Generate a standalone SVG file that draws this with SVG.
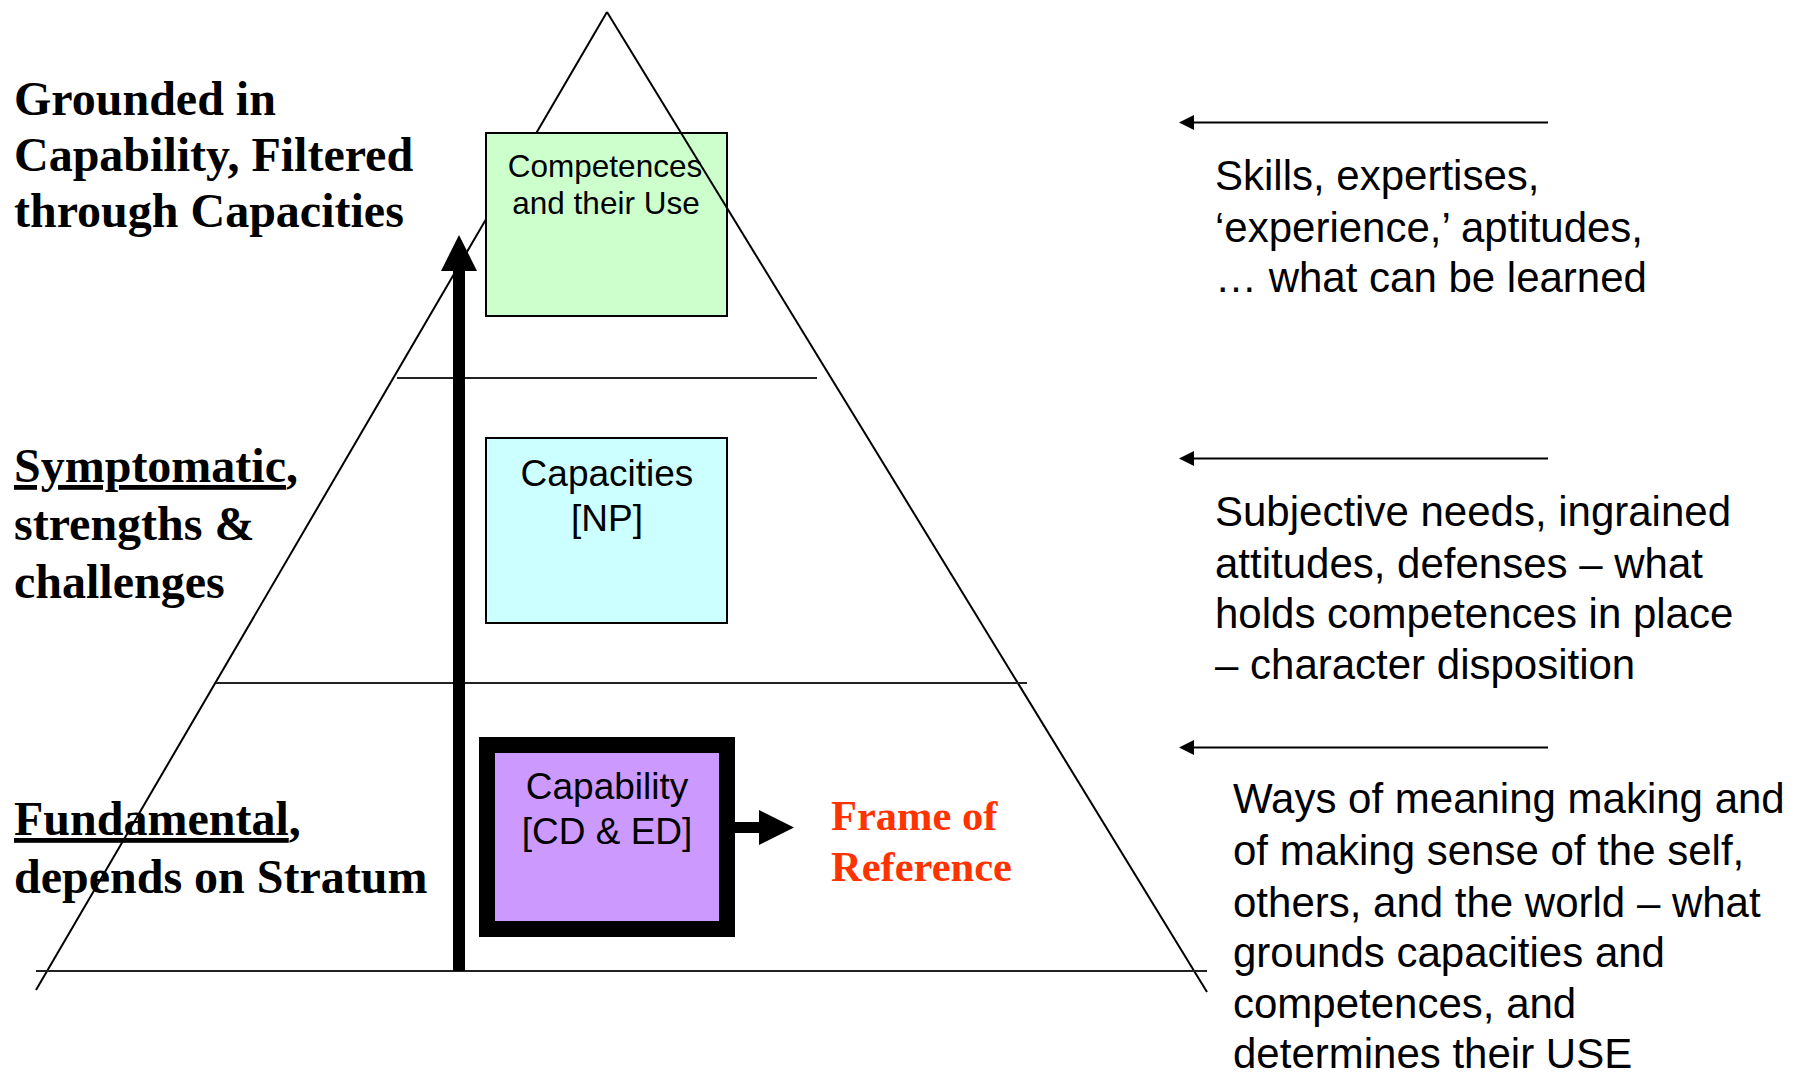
<svg xmlns="http://www.w3.org/2000/svg" width="1811" height="1073" viewBox="0 0 1811 1073">
  <style>
    .lbl { font-family: "Liberation Serif", "Times New Roman", serif; font-weight: bold; font-size: 48px; fill: #000; }
    .red { font-family: "Liberation Serif", "Times New Roman", serif; font-weight: bold; font-size: 42.5px; fill: #FF3300; }
    .desc { font-family: "Liberation Sans", Arial, sans-serif; font-size: 42px; fill: #000; }
    .box-txt { font-family: "Liberation Sans", Arial, sans-serif; fill: #000; text-anchor: middle; }
    .edge { stroke: #000; stroke-width: 2; fill: none; }
    .tier { stroke: #222; stroke-width: 2.2; fill: none; }
    .pointer { stroke: #000; stroke-width: 2.2; fill: none; }
  </style>
  <defs>
    <marker id="thin-head" markerUnits="userSpaceOnUse" markerWidth="16" markerHeight="16" refX="0" refY="7.5" orient="auto">
      <path d="M0,0 L15,7.5 L0,15 Z" fill="#000"/>
    </marker>
    <marker id="thick-head" markerUnits="userSpaceOnUse" markerWidth="37" markerHeight="37" refX="0" refY="18" orient="auto">
      <path d="M0,0 L36,18 L0,36 Z" fill="#000"/>
    </marker>
    <marker id="frame-head" markerUnits="userSpaceOnUse" markerWidth="36" markerHeight="36" refX="0" refY="17.5" orient="auto">
      <path d="M0,0 L35,17.5 L0,35 Z" fill="#000"/>
    </marker>
  </defs>

  <rect width="1811" height="1073" fill="#fff"/>

  <!-- tier labels on the left -->
  <g id="label-top">
    <text class="lbl" x="14" y="115">Grounded in</text>
    <text class="lbl" x="14" y="171">Capability, Filtered</text>
    <text class="lbl" x="14" y="227">through Capacities</text>
  </g>
  <g id="label-middle">
    <text class="lbl" x="14" y="482"><tspan text-decoration="underline">Symptomatic</tspan>,</text>
    <text class="lbl" x="14" y="540">strengths &amp;</text>
    <text class="lbl" x="14" y="598">challenges</text>
  </g>
  <g id="label-bottom">
    <text class="lbl" x="14" y="835"><tspan text-decoration="underline">Fundamental</tspan>,</text>
    <text class="lbl" x="14" y="893">depends on Stratum</text>
  </g>

  <!-- pyramid: left flank sits beneath the tier boxes -->
  <g id="pyramid-left">
    <line class="edge" x1="607" y1="12" x2="36" y2="990"/>
  </g>

  <g id="competences">
    <rect x="486" y="133" width="241" height="183" fill="#CCFFCC" stroke="#000" stroke-width="2"/>
    <text class="box-txt" x="605" y="177" font-size="31.5">Competences</text>
    <text class="box-txt" x="606" y="214" font-size="31.5">and their Use</text>
  </g>

  <g id="capacities">
    <rect x="486" y="438" width="241" height="185" fill="#CCFFFF" stroke="#000" stroke-width="2"/>
    <text class="box-txt" x="607" y="486" font-size="37">Capacities</text>
    <text class="box-txt" x="607" y="531" font-size="37">[NP]</text>
  </g>

  <g id="capability">
    <rect x="487" y="745" width="240" height="184" fill="#CC99FF" stroke="#000" stroke-width="16"/>
    <text class="box-txt" x="607" y="799" font-size="37">Capability</text>
    <text class="box-txt" x="607" y="844" font-size="37">[CD &amp; ED]</text>
  </g>

  <!-- pyramid: right flank, tier dividers and base -->
  <g id="pyramid-right">
    <line class="edge" x1="607" y1="12" x2="1207" y2="992"/>
    <line class="tier" x1="397" y1="378" x2="817" y2="378"/>
    <line class="tier" x1="216" y1="683" x2="1027" y2="683"/>
    <line class="tier" x1="36" y1="971" x2="1207" y2="971"/>
  </g>

  <g id="frame-of-reference">
    <text class="red" x="831" y="830">Frame of</text>
    <text class="red" x="831" y="881">Reference</text>
  </g>

  <!-- descriptions on the right -->
  <g id="desc-competences">
    <text class="desc" x="1215" y="190">Skills, expertises,</text>
    <text class="desc" x="1215" y="242">‘experience,’ aptitudes,</text>
    <text class="desc" x="1215" y="292">… what can be learned</text>
  </g>
  <g id="desc-capacities">
    <text class="desc" x="1215" y="526">Subjective needs, ingrained</text>
    <text class="desc" x="1215" y="578">attitudes, defenses – what</text>
    <text class="desc" x="1215" y="628">holds competences in place</text>
    <text class="desc" x="1215" y="679">– character disposition</text>
  </g>
  <g id="desc-capability">
    <text class="desc" x="1233" y="813">Ways of meaning making and</text>
    <text class="desc" x="1233" y="865">of making sense of the self,</text>
    <text class="desc" x="1233" y="917">others, and the world – what</text>
    <text class="desc" x="1233" y="967">grounds capacities and</text>
    <text class="desc" x="1233" y="1018">competences, and</text>
    <text class="desc" x="1233" y="1068">determines their USE</text>
  </g>

  <!-- connectors -->
  <g id="connectors">
    <line x1="459" y1="971" x2="459" y2="271" stroke="#000" stroke-width="12" marker-end="url(#thick-head)"/>
    <line x1="727" y1="827.5" x2="759" y2="827.5" stroke="#000" stroke-width="11" marker-end="url(#frame-head)"/>
    <line class="pointer" x1="1548" y1="122.5" x2="1194" y2="122.5" marker-end="url(#thin-head)"/>
    <line class="pointer" x1="1548" y1="458.5" x2="1194" y2="458.5" marker-end="url(#thin-head)"/>
    <line class="pointer" x1="1548" y1="747.5" x2="1194" y2="747.5" marker-end="url(#thin-head)"/>
  </g>
</svg>
